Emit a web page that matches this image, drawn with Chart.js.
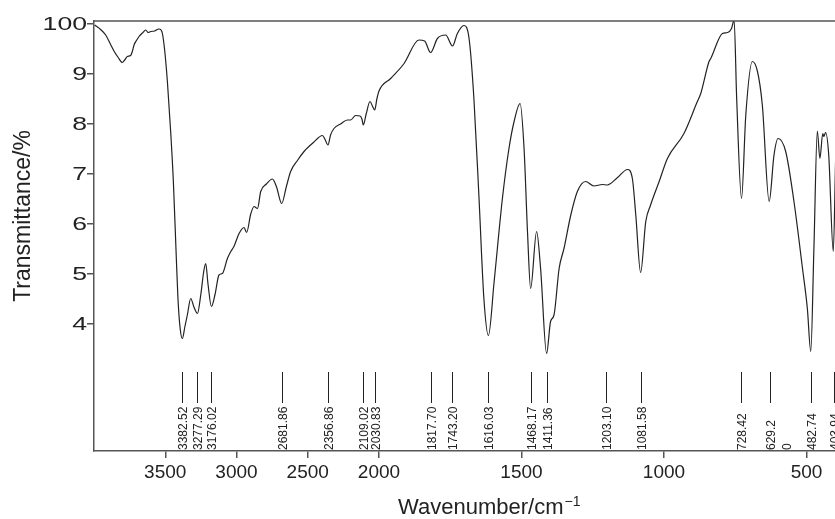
<!DOCTYPE html>
<html>
<head>
<meta charset="utf-8">
<title>IR spectrum</title>
<script src="https://cdn.jsdelivr.net/npm/chart.js@4.4.0/dist/chart.umd.min.js"></script>
<style>
html, body { margin: 0; padding: 0; background: #fff; }
#wrap { width: 835px; height: 519px; position: relative; }
</style>
</head>
<body>
<div id="wrap"><canvas id="irChart"></canvas></div>
<script>
// spectrum (wavenumber in cm-1, transmittance in %)
var wavenumbers = [
    3995, 3950, 3918, 3885, 3858, 3830, 3801, 3785, 3766, 3743, 3730, 3719, 3700, 3684, 3660, 3637,
    3620, 3602, 3575, 3544, 3530, 3520, 3505, 3495, 3485, 3462, 3443, 3425, 3411, 3395, 3380, 3362,
    3345, 3321, 3300, 3274, 3250, 3230, 3216, 3200, 3176, 3150, 3123, 3099, 3064, 3040, 3018, 2982,
    2947, 2929, 2900, 2877, 2853, 2830, 2790, 2748, 2720, 2683, 2650, 2620, 2570, 2526, 2460, 2397,
    2380, 2358, 2340, 2316, 2270, 2222, 2199, 2164, 2133, 2120, 2110, 2090, 2063, 2045, 2030, 2015,
    2000, 1959, 1912, 1860, 1840, 1819, 1795, 1766, 1742, 1725, 1702, 1684, 1667, 1649, 1632, 1616,
    1596, 1567, 1544, 1526, 1505, 1491, 1479, 1468, 1447, 1433, 1412, 1398, 1386, 1368, 1351, 1327,
    1304, 1275, 1246, 1216, 1199, 1163, 1128, 1111, 1099, 1082, 1064, 1047, 1017, 988, 930, 883,
    871, 842, 836, 795, 777, 763, 754, 745, 728, 713, 690, 672, 655, 631, 614, 600,
    573, 544, 514, 497, 485, 474, 462, 453, 443, 439, 433, 422, 406, 398
];
var transmittance = [
    99.8, 98.8, 97.8, 96.0, 94.5, 93.3, 92.3, 92.8, 93.5, 93.7, 94.6, 95.8, 96.8, 97.5, 98.2, 98.8,
    98.3, 98.5, 98.6, 99.0, 98.8, 98.1, 95.0, 92.0, 88.5, 78.5, 68.5, 55.2, 45.2, 39.0, 37.1, 39.5,
    41.8, 45.1, 43.5, 42.1, 46.0, 50.5, 52.1, 48.0, 43.5, 46.0, 49.8, 50.1, 53.1, 54.5, 55.5, 58.1,
    59.3, 58.3, 62.0, 63.5, 63.1, 66.5, 68.0, 69.0, 67.5, 64.1, 67.5, 70.5, 72.8, 74.5, 76.3, 77.7,
    77.0, 75.8, 77.8, 79.1, 80.0, 80.8, 80.8, 81.7, 81.6, 81.0, 79.8, 82.0, 84.5, 83.5, 82.8, 85.0,
    86.6, 89.1, 92.1, 96.8, 96.6, 94.3, 97.1, 97.8, 95.6, 98.1, 99.7, 97.1, 85.1, 65.1, 45.1, 37.7,
    48.5, 65.1, 75.1, 80.5, 84.1, 75.1, 58.5, 47.1, 58.5, 51.1, 34.1, 40.5, 41.8, 51.1, 55.1, 61.8,
    66.5, 68.5, 67.6, 67.9, 67.8, 69.3, 70.9, 69.1, 61.8, 50.3, 60.5, 63.8, 68.5, 73.1, 78.1, 84.5,
    86.1, 92.5, 93.1, 98.1, 98.3, 99.1, 100.8, 85.1, 65.1, 81.8, 92.5, 90.5, 83.8, 64.5, 73.8, 77.1,
    74.5, 64.5, 51.1, 43.1, 34.5, 55.1, 78.6, 73.1, 78.1, 77.5, 78.3, 73.8, 54.5, 72.5
];

var xTickValues = [3500, 3000, 2500, 2000, 1500, 1000, 500];
var yTickValues = [40, 50, 60, 70, 80, 90, 100];
var yTickLabels = ['4', '5', '6', '7', '8', '9', '100'];

// marked peaks
var peakValues = [3382.52, 3277.29, 3176.02, 2681.86, 2356.86, 2109.02, 2030.83, 1817.70, 1743.20,
    1616.03, 1468.17, 1411.36, 1203.10, 1081.58, 728.42, 629.2, 482.74, 403.94];
var peakLabels = ['3382.52', '3277.29', '3176.02', '2681.86', '2356.86', '2109.02', '2030.83', '1817.70', '1743.20',
    '1616.03', '1468.17', '1411.36', '1203.10', '1081.58', '728.42', '629.2', '482.74', '403.94'];
// the stray "0" left over from 629.20
var strayValues = [569];
var strayLabels = ['0'];

// above 2000 cm-1 the axis runs at half scale
function toAxis(w) { return w > 2000 ? 2000 + (w - 2000) / 2 : w; }
function fromAxis(u) { return u > 2000 ? Math.round(2000 + (u - 2000) * 2) : u; }

var AXIS = '#555';
var INK = '#222';
var SANS = '"Liberation Sans", Arial, Helvetica, sans-serif';

function upText(ctx, text, x, y) {
    ctx.save();
    ctx.translate(x, y);
    ctx.rotate(-Math.PI / 2);
    ctx.textAlign = 'left';
    ctx.textBaseline = 'middle';
    ctx.fillText(text, 0, 0);
    ctx.restore();
}

var extras = {
    id: 'extras',
    afterDraw: function (chart) {
        var ctx = chart.ctx, area = chart.chartArea;
        var xs = chart.scales.x, ys = chart.scales.y;
        ctx.save();

        // top frame line
        ctx.strokeStyle = AXIS;
        ctx.lineWidth = 1.5;
        ctx.beginPath();
        ctx.moveTo(area.left, area.top);
        ctx.lineTo(area.right, area.top);
        ctx.stroke();

        // y tick labels (drawn wide, as in the original)
        ctx.fillStyle = INK;
        ctx.font = '19px ' + SANS;
        ctx.textAlign = 'right';
        ctx.textBaseline = 'middle';
        yTickValues.forEach(function (v, i) {
            var y = ys.getPixelForValue(v);
            ctx.save();
            ctx.translate(area.left - 7, y + 1);
            ctx.scale(1.4, 1);
            ctx.fillText(yTickLabels[i], 0, 0);
            ctx.restore();
        });

        // peak markers and labels
        var yTop = ys.getPixelForValue(30.4), yBot = ys.getPixelForValue(24.2);
        ctx.strokeStyle = INK;
        ctx.lineWidth = 1;
        ctx.font = '12px ' + SANS;
        peakValues.forEach(function (w, i) {
            var x = Math.round(xs.getPixelForValue(toAxis(w))) + 0.5;
            ctx.beginPath();
            ctx.moveTo(x, yTop);
            ctx.lineTo(x, yBot);
            ctx.stroke();
            upText(ctx, peakLabels[i], x + 1, area.bottom - 1);
        });
        strayValues.forEach(function (w, i) {
            upText(ctx, strayLabels[i], xs.getPixelForValue(toAxis(w)) + 1, area.bottom - 1);
        });

        // axis titles
        ctx.fillStyle = INK;
        ctx.font = '22px ' + SANS;
        ctx.textAlign = 'left';
        ctx.textBaseline = 'alphabetic';
        var main = 'Wavenumber/cm';
        var tx = 398, ty = 514;
        ctx.fillText(main, tx, ty);
        var mw = ctx.measureText(main).width;
        ctx.font = '14px ' + SANS;
        ctx.fillText('\u22121', tx + mw + 1, ty - 8);

        ctx.font = '23px ' + SANS;
        ctx.save();
        ctx.translate(30, 216);
        ctx.rotate(-Math.PI / 2);
        ctx.textAlign = 'center';
        ctx.fillText('Transmittance/%', 0, 0);
        ctx.restore();

        ctx.restore();
    }
};

var points = wavenumbers.map(function (w, i) { return { x: toAxis(w), y: transmittance[i] }; });

var ctx = document.getElementById('irChart');
var myChart = new Chart(ctx, {
    type: 'line',
    data: {
        datasets: [{
            label: 'IR',
            data: points,
            borderColor: INK,
            borderWidth: 1.2,
            pointRadius: 0,
            fill: false,
            cubicInterpolationMode: 'monotone'
        }]
    },
    options: {
        responsive: true,
        maintainAspectRatio: false,
        animation: false,
        layout: { padding: { top: 21, right: 0, left: 0, bottom: 0 } },
        plugins: {
            legend: { display: false },
            tooltip: { enabled: false }
        },
        scales: {
            x: {
                type: 'linear',
                reverse: true,
                min: toAxis(400),
                max: toAxis(4000),
                afterBuildTicks: function (scale) {
                    scale.ticks = xTickValues.map(function (w) { return { value: toAxis(w) }; });
                },
                afterFit: function (scale) { scale.height = 68; },
                grid: { display: true, drawOnChartArea: false, drawTicks: true, tickLength: 7, color: AXIS, lineWidth: 1.5 },
                border: { display: true, color: AXIS, width: 1.5 },
                ticks: {
                    autoSkip: false,
                    maxRotation: 0,
                    padding: 3,
                    color: INK,
                    font: { family: SANS, size: 19 },
                    callback: function (v) { return String(fromAxis(v)); }
                }
            },
            y: {
                min: 14.6,
                max: 100.6,
                afterBuildTicks: function (scale) {
                    scale.ticks = yTickValues.map(function (v) { return { value: v }; });
                },
                afterFit: function (scale) { scale.width = 94; },
                grid: { display: true, drawOnChartArea: false, drawTicks: true, tickLength: 7, color: AXIS, lineWidth: 1.5 },
                border: { display: true, color: AXIS, width: 1.5 },
                ticks: { display: false }
            }
        }
    },
    plugins: [extras]
});
</script>
</body>
</html>
